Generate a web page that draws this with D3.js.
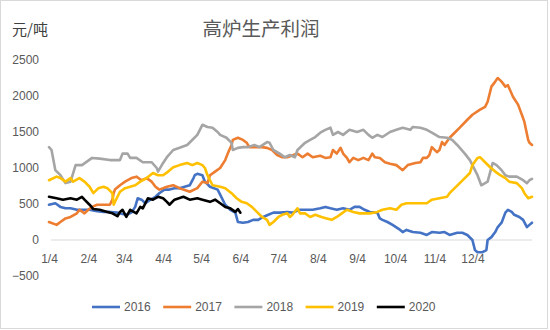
<!DOCTYPE html>
<html>
<head>
<meta charset="utf-8">
<script src="https://cdn.jsdelivr.net/npm/d3@7"></script>
<style>
  html, body { margin: 0; padding: 0; background: #fff; }
  svg { display: block; }
</style>
</head>
<body>
<svg id="chart" width="550" height="330"></svg>
<script>
// Blast-furnace production profit (元/吨), one line per year on a shared calendar
const years = ["2016", "2017", "2018", "2019", "2020"];
const colors = ["#4472C4", "#ED7D31", "#A5A5A5", "#FFC000", "#000000"];
const monthTicks = ["1/4", "2/4", "3/4", "4/4", "5/4", "6/4", "7/4", "8/4", "9/4", "10/4", "11/4", "12/4"];
const yTicks = [-500, 0, 500, 1000, 1500, 2000, 2500];

const s2016 = [["1/4",490],["1/9",510],["1/13",460],["1/17",440],["1/21",440],["1/26",420],["1/31",420],["2/5",420],["2/11",400],["2/16",390],["2/21",390],["2/27",380],["3/3",360],["3/6",350],["3/10",380],["3/13",460],["3/15",580],["3/18",560],["3/21",510],["3/25",560],["3/29",600],["4/1",650],["4/5",700],["4/9",700],["4/13",720],["4/17",720],["4/21",740],["4/25",760],["4/28",860],["4/29",900],["5/1",920],["5/5",900],["5/7",810],["5/11",740],["5/17",700],["5/19",630],["5/23",490],["5/27",420],["5/31",380],["6/2",250],["6/6",240],["6/10",250],["6/14",280],["6/18",280],["6/22",320],["6/26",350],["6/30",380],["7/5",380],["7/11",390],["7/15",380],["7/21",420],["7/27",420],["7/31",420],["8/6",440],["8/10",460],["8/14",440],["8/19",420],["8/24",440],["8/29",420],["9/2",460],["9/6",460],["9/10",420],["9/14",390],["9/20",380],["9/22",300],["9/24",280],["9/28",250],["10/2",210],["10/8",140],["10/10",110],["10/13",140],["10/18",110],["10/24",100],["10/29",70],["11/2",110],["11/8",100],["11/12",110],["11/16",70],["11/22",100],["11/26",100],["11/30",70],["12/4",0],["12/6",-140],["12/8",-170],["12/12",-170],["12/15",-140],["12/16",0],["12/19",40],["12/22",110],["12/24",180],["12/27",240],["12/30",380],["1/1",420],["1/4",390],["1/6",350],["1/10",320],["1/13",280],["1/16",180],["1/18",210],["1/20",240]];

const s2017 = [["1/4",250],["1/10",210],["1/13",250],["1/17",300],["1/21",320],["1/26",370],["1/28",420],["2/1",370],["2/4",420],["2/7",460],["2/11",490],["2/16",490],["2/21",490],["2/23",560],["2/24",650],["2/25",700],["3/1",760],["3/5",810],["3/10",860],["3/14",880],["3/18",830],["3/22",860],["3/26",810],["3/29",740],["4/1",700],["4/7",740],["4/12",760],["4/17",720],["4/20",700],["4/25",670],["5/1",720],["5/5",810],["5/9",790],["5/11",900],["5/15",950],["5/19",1000],["5/23",1110],["5/25",1200],["5/28",1320],["5/29",1390],["6/2",1420],["6/6",1390],["6/9",1350],["6/11",1290],["6/15",1290],["6/21",1290],["6/25",1280],["6/29",1250],["7/3",1180],["7/7",1150],["7/11",1150],["7/19",1200],["7/23",1150],["7/27",1200],["7/31",1150],["8/6",1170],["8/10",1140],["8/14",1150],["8/16",1250],["8/19",1200],["8/22",1280],["8/24",1200],["8/27",1140],["8/29",1080],["9/1",1140],["9/5",1110],["9/9",1140],["9/13",1110],["9/16",1200],["9/18",1150],["9/22",1140],["9/26",1080],["9/30",1060],["10/5",1040],["10/10",970],["10/14",1040],["10/20",1070],["10/24",1080],["10/26",1140],["10/29",1140],["10/31",1180],["11/2",1290],["11/6",1220],["11/8",1250],["11/10",1360],["11/12",1320],["11/16",1420],["11/20",1490],["11/24",1560],["11/30",1670],["12/4",1740],["12/10",1810],["12/14",1850],["12/16",1920],["12/19",2130],["12/22",2200],["12/24",2250],["12/27",2200],["12/30",2130],["1/1",2150],["1/5",1990],["1/9",1880],["1/12",1740],["1/14",1640],["1/17",1390],["1/18",1350],["1/20",1320]];

const s2018 = [["1/4",1290],["1/6",1250],["1/9",970],["1/13",900],["1/17",790],["1/21",810],["1/25",1040],["1/30",1040],["2/7",1140],["2/13",1130],["2/21",1110],["3/1",1110],["3/3",1200],["3/7",1200],["3/9",1140],["3/14",1140],["3/19",1080],["3/26",1080],["3/30",1000],["3/31",950],["4/4",1070],["4/7",1150],["4/12",1250],["4/17",1280],["4/23",1320],["5/1",1460],["5/5",1600],["5/9",1570],["5/13",1560],["5/17",1500],["5/19",1460],["5/24",1420],["5/28",1350],["5/29",1250],["6/2",1280],["6/6",1290],["6/10",1290],["6/15",1320],["6/19",1290],["6/25",1360],["6/27",1350],["6/30",1250],["7/5",1200],["7/9",1150],["7/13",1180],["7/17",1150],["7/19",1250],["7/25",1350],["7/29",1390],["8/2",1430],["8/6",1490],["8/10",1530],["8/14",1560],["8/16",1460],["8/20",1500],["8/24",1460],["8/29",1530],["9/4",1500],["9/9",1530],["9/13",1460],["9/16",1420],["9/20",1460],["9/24",1430],["9/30",1500],["10/5",1530],["10/10",1560],["10/16",1530],["10/18",1570],["10/24",1560],["10/29",1530],["11/2",1490],["11/8",1430],["11/14",1420],["11/18",1390],["11/22",1320],["11/28",1200],["12/2",1110],["12/6",970],["12/8",900],["12/11",760],["12/14",790],["12/16",810],["12/20",1070],["12/23",1040],["12/27",970],["12/30",900],["1/2",880],["1/8",880],["1/13",830],["1/16",790],["1/18",830],["1/20",850]];

const s2019 = [["1/4",830],["1/10",880],["1/13",860],["1/17",810],["1/21",860],["1/23",810],["1/28",860],["2/1",810],["2/5",740],["2/8",650],["2/12",720],["2/16",740],["2/19",720],["2/23",650],["2/24",490],["2/27",600],["3/1",670],["3/5",720],["3/9",740],["3/13",760],["3/17",810],["3/22",860],["3/27",930],["3/31",900],["4/4",900],["4/8",950],["4/12",1010],["4/17",1040],["4/23",1070],["4/27",1040],["5/1",1070],["5/5",1040],["5/7",1000],["5/9",900],["5/11",830],["5/13",760],["5/19",740],["5/23",720],["5/28",650],["6/1",580],["6/5",530],["6/9",510],["6/13",460],["6/17",390],["6/21",320],["6/25",280],["6/27",210],["6/30",250],["7/4",320],["7/7",350],["7/11",370],["7/13",320],["7/15",350],["7/19",440],["7/21",370],["7/25",370],["7/29",320],["8/2",350],["8/7",320],["8/11",300],["8/15",280],["8/19",320],["8/23",370],["8/27",420],["9/1",390],["9/6",370],["9/12",370],["9/14",370],["9/20",390],["9/24",420],["9/30",440],["10/5",420],["10/9",490],["10/13",510],["10/18",510],["10/24",510],["10/29",510],["11/2",560],["11/8",580],["11/14",600],["11/16",650],["11/20",720],["11/24",790],["11/28",860],["12/2",930],["12/4",1040],["12/8",1140],["12/10",1150],["12/14",1080],["12/18",1010],["12/22",950],["12/26",900],["12/30",860],["1/2",810],["1/8",790],["1/12",720],["1/14",650],["1/17",580],["1/20",600]];

const s2020 = [["1/4",600],["1/10",580],["1/15",560],["1/21",580],["1/26",560],["1/30",600],["2/1",560],["2/5",490],["2/8",430],["2/13",420],["2/19",390],["2/23",370],["2/27",330],["3/1",390],["3/3",420],["3/6",320],["3/9",420],["3/14",370],["3/17",460],["3/19",440],["3/23",580],["3/27",560],["3/31",600],["4/4",580],["4/7",530],["4/9",490],["4/13",560],["4/20",600],["4/25",560],["5/1",580],["5/5",560],["5/11",530],["5/15",560],["5/19",510],["5/23",460],["5/27",440],["5/31",390],["6/2",430],["6/4",380]];

const seriesValues = [s2016, s2017, s2018, s2019, s2020];

// Month/day strings placed on one shared calendar; the year rolls over when the dates wrap
const BASE_YEAR = 2019;
function toDates(rows) {
  let year = BASE_YEAR, prev = null;
  return rows.map(([md, v]) => {
    const [m, d] = md.split("/").map(Number);
    let dt = new Date(year, m - 1, d);
    if (prev && dt < prev) { year += 1; dt = new Date(year, m - 1, d); }
    prev = dt;
    return { date: dt, value: v };
  });
}

const svg = d3.select("#chart");

// outer frame
svg.append("rect")
  .attr("x", 0.5).attr("y", 0.5)
  .attr("width", 547).attr("height", 328)
  .attr("fill", "#fff").attr("stroke", "#d9d9d9");

const x = d3.scaleTime()
  .domain([new Date(BASE_YEAR, 0, 4), new Date(BASE_YEAR + 1, 0, 20)])
  .range([49, 532]);
const y = d3.scaleLinear().domain([-500, 2500]).range([276, 60]);

// title and unit
svg.append("text")
  .attr("x", 261).attr("y", 27)
  .attr("text-anchor", "middle").attr("dominant-baseline", "central")
  .attr("font-family", "'Noto Sans CJK SC', sans-serif")
  .attr("font-size", 19.5).attr("fill", "#595959")
  .text("高炉生产利润");
svg.append("text")
  .attr("x", 12).attr("y", 28)
  .attr("dominant-baseline", "central")
  .attr("font-family", "'Noto Sans CJK SC', sans-serif")
  .attr("font-size", 15).attr("fill", "#404040")
  .text("元/吨");

// y axis labels (no axis line)
const yAxis = d3.axisLeft(y).tickValues(yTicks).tickSize(0).tickPadding(0)
  .tickFormat(d3.format("d"));
const gy = svg.append("g").attr("transform", "translate(39,0)").call(yAxis);
gy.select(".domain").remove();
gy.selectAll("text")
  .attr("font-family", "'Liberation Sans', Arial, sans-serif")
  .attr("font-size", 12).attr("fill", "#595959");

// x axis line at zero
svg.append("line")
  .attr("x1", 51).attr("x2", 532)
  .attr("y1", y(0)).attr("y2", y(0))
  .attr("stroke", "#d9d9d9").attr("stroke-width", 1);

// month labels below the zero line
const tickDates = monthTicks.map(s => {
  const [m, d] = s.split("/").map(Number);
  return new Date(BASE_YEAR, m - 1, d);
});
const xAxis = d3.axisBottom(x).tickValues(tickDates).tickSize(0).tickPadding(0)
  .tickFormat((d, i) => monthTicks[i]);
const gx = svg.append("g").attr("transform", "translate(0,254)").call(xAxis);
gx.select(".domain").remove();
gx.selectAll("text")
  .attr("font-family", "'Liberation Sans', Arial, sans-serif")
  .attr("font-size", 12).attr("fill", "#595959");

// series lines
const line = d3.line().x(d => x(d.date)).y(d => y(d.value));
seriesValues.forEach((rows, i) => {
  svg.append("path")
    .datum(toDates(rows))
    .attr("fill", "none")
    .attr("stroke", colors[i])
    .attr("stroke-width", 2.6)
    .attr("stroke-linejoin", "round")
    .attr("stroke-linecap", "round")
    .attr("d", line);
});

// legend
const legend = svg.append("g").attr("transform", "translate(92,307)");
years.forEach((yr, i) => {
  const g = legend.append("g").attr("transform", `translate(${i * 71.2},0)`);
  g.append("line").attr("x1", 0).attr("x2", 28).attr("y1", 0).attr("y2", 0)
    .attr("stroke", colors[i]).attr("stroke-width", 2.6);
  g.append("text").attr("x", 32).attr("y", 0)
    .attr("dominant-baseline", "central")
    .attr("font-family", "'Liberation Sans', Arial, sans-serif")
    .attr("font-size", 12).attr("fill", "#595959")
    .text(yr);
});
</script>
</body>
</html>
